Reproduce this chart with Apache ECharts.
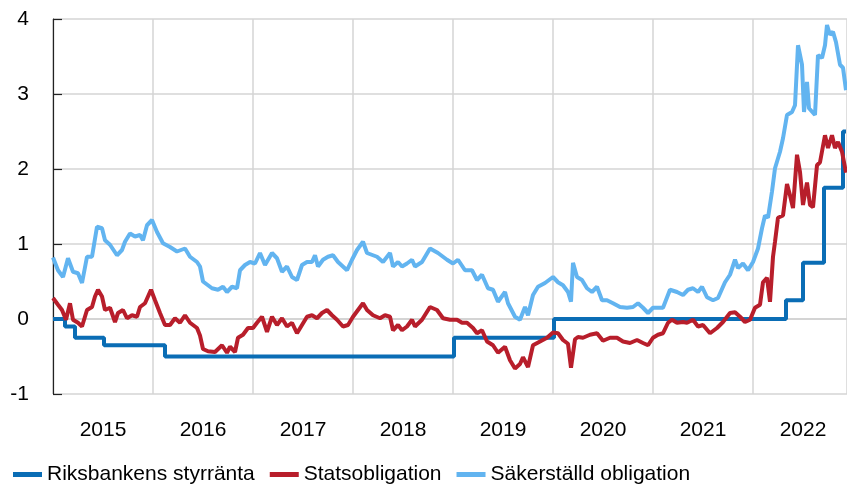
<!DOCTYPE html>
<html lang="sv">
<head>
    <meta charset="UTF-8">
    <title>Räntor</title>
    <script src="https://cdn.jsdelivr.net/npm/echarts@6/dist/echarts.min.js"></script>
    <style type="text/css">
        html, body {
            margin: 0;
            height: 100%;
            background: #fff;
        }
    </style>
</head>
<body>

<div id="main" style="width: 847px;height:485px;"></div>

<script>
    // decimal year, percent
    const styrranta = [
        [2015.00, 0], [2015.12, -0.10], [2015.22, -0.25], [2015.51, -0.35], [2016.12, -0.50],
        [2019.01, -0.25], [2020.01, 0], [2022.33, 0.25], [2022.50, 0.75], [2022.71, 1.75],
        [2022.90, 2.50], [2022.93, 2.50]
    ];

    const statsobligation = [
        [2015.00, 0.28], [2015.05, 0.19], [2015.09, 0.12], [2015.13, -0.01], [2015.17, 0.21], [2015.20, -0.01],
        [2015.25, -0.05], [2015.29, -0.10], [2015.34, 0.12], [2015.39, 0.16], [2015.42, 0.30], [2015.45, 0.39],
        [2015.49, 0.30], [2015.52, 0.12], [2015.57, 0.15], [2015.62, -0.04], [2015.65, 0.08], [2015.70, 0.12],
        [2015.74, 0.01], [2015.79, 0.05], [2015.84, 0.03], [2015.87, 0.16], [2015.92, 0.21], [2015.95, 0.30],
        [2015.98, 0.39], [2016.02, 0.25], [2016.07, 0.08], [2016.12, -0.08], [2016.17, -0.08], [2016.22, 0.01],
        [2016.27, -0.05], [2016.32, 0.05], [2016.37, -0.05], [2016.44, -0.12], [2016.47, -0.22], [2016.50, -0.40],
        [2016.55, -0.43], [2016.62, -0.44], [2016.69, -0.35], [2016.74, -0.45], [2016.77, -0.37], [2016.82, -0.44],
        [2016.85, -0.25], [2016.90, -0.21], [2016.95, -0.12], [2017.00, -0.12], [2017.04, -0.05], [2017.09, 0.03],
        [2017.14, -0.17], [2017.19, 0.03], [2017.24, -0.08], [2017.29, 0.01], [2017.34, -0.10], [2017.39, -0.05],
        [2017.44, -0.19], [2017.49, -0.08], [2017.54, 0.03], [2017.59, 0.05], [2017.64, 0.01], [2017.69, 0.08],
        [2017.74, 0.12], [2017.79, 0.05], [2017.84, -0.01], [2017.90, -0.10], [2017.95, -0.08], [2018.00, 0.03],
        [2018.05, 0.12], [2018.10, 0.21], [2018.14, 0.12], [2018.20, 0.05], [2018.27, 0.01], [2018.32, 0.05],
        [2018.37, 0.03], [2018.40, -0.15], [2018.45, -0.08], [2018.49, -0.15], [2018.54, -0.10], [2018.59, -0.01],
        [2018.62, -0.10], [2018.69, -0.01], [2018.77, 0.16], [2018.84, 0.12], [2018.90, 0.01], [2018.97, -0.01],
        [2019.04, -0.01], [2019.09, -0.05], [2019.14, -0.05], [2019.20, -0.12], [2019.24, -0.19], [2019.29, -0.15],
        [2019.34, -0.30], [2019.40, -0.35], [2019.45, -0.45], [2019.52, -0.37], [2019.57, -0.55], [2019.62, -0.66],
        [2019.67, -0.60], [2019.70, -0.51], [2019.75, -0.64], [2019.80, -0.35], [2019.87, -0.30], [2019.94, -0.25],
        [2020.00, -0.18], [2020.05, -0.19], [2020.10, -0.28], [2020.15, -0.33], [2020.18, -0.65], [2020.22, -0.27],
        [2020.25, -0.24], [2020.30, -0.25], [2020.37, -0.21], [2020.44, -0.19], [2020.50, -0.29], [2020.57, -0.25],
        [2020.64, -0.25], [2020.70, -0.30], [2020.77, -0.32], [2020.84, -0.28], [2020.90, -0.32], [2020.95, -0.35],
        [2021.00, -0.25], [2021.05, -0.21], [2021.10, -0.19], [2021.15, -0.05], [2021.19, -0.01], [2021.24, -0.05],
        [2021.30, -0.04], [2021.34, -0.05], [2021.40, -0.01], [2021.45, -0.10], [2021.50, -0.08], [2021.57, -0.19],
        [2021.64, -0.12], [2021.70, -0.04], [2021.77, 0.08], [2021.82, 0.09], [2021.87, 0.03], [2021.92, -0.04],
        [2021.97, -0.01], [2022.02, 0.15], [2022.07, 0.19], [2022.10, 0.49], [2022.14, 0.55], [2022.17, 0.23],
        [2022.20, 0.83], [2022.22, 1.03], [2022.25, 1.35], [2022.30, 1.38], [2022.34, 1.80], [2022.37, 1.65],
        [2022.40, 1.48], [2022.44, 2.19], [2022.47, 1.96], [2022.50, 1.52], [2022.54, 1.82], [2022.57, 1.52],
        [2022.60, 1.49], [2022.64, 2.05], [2022.67, 2.09], [2022.72, 2.45], [2022.75, 2.28], [2022.79, 2.45],
        [2022.82, 2.28], [2022.85, 2.36], [2022.89, 2.23], [2022.93, 1.95]
    ];

    const sakerstalld = [
        [2015.00, 0.82], [2015.05, 0.65], [2015.10, 0.56], [2015.15, 0.81], [2015.20, 0.63], [2015.25, 0.61],
        [2015.29, 0.48], [2015.34, 0.83], [2015.39, 0.83], [2015.44, 1.23], [2015.49, 1.21], [2015.52, 1.05],
        [2015.57, 0.99], [2015.64, 0.85], [2015.69, 0.92], [2015.72, 1.03], [2015.77, 1.14], [2015.82, 1.10],
        [2015.87, 1.12], [2015.90, 1.05], [2015.94, 1.25], [2015.99, 1.32], [2016.04, 1.16], [2016.10, 1.01],
        [2016.17, 0.96], [2016.24, 0.90], [2016.32, 0.94], [2016.37, 0.83], [2016.44, 0.76], [2016.47, 0.70],
        [2016.50, 0.50], [2016.55, 0.45], [2016.59, 0.41], [2016.65, 0.39], [2016.70, 0.43], [2016.74, 0.36],
        [2016.79, 0.43], [2016.84, 0.41], [2016.87, 0.65], [2016.92, 0.72], [2016.97, 0.76], [2017.02, 0.74],
        [2017.07, 0.88], [2017.12, 0.72], [2017.19, 0.88], [2017.24, 0.81], [2017.29, 0.63], [2017.34, 0.70],
        [2017.39, 0.56], [2017.44, 0.52], [2017.49, 0.72], [2017.54, 0.76], [2017.59, 0.76], [2017.62, 0.85],
        [2017.65, 0.70], [2017.70, 0.79], [2017.75, 0.83], [2017.80, 0.85], [2017.85, 0.76], [2017.94, 0.65],
        [2017.99, 0.79], [2018.04, 0.92], [2018.10, 1.03], [2018.14, 0.88], [2018.20, 0.85], [2018.24, 0.83],
        [2018.30, 0.76], [2018.37, 0.88], [2018.40, 0.70], [2018.45, 0.76], [2018.49, 0.70], [2018.54, 0.74],
        [2018.59, 0.79], [2018.62, 0.70], [2018.69, 0.76], [2018.77, 0.94], [2018.85, 0.88], [2018.94, 0.79],
        [2019.00, 0.74], [2019.05, 0.79], [2019.12, 0.65], [2019.19, 0.65], [2019.24, 0.52], [2019.29, 0.59],
        [2019.35, 0.41], [2019.40, 0.39], [2019.45, 0.23], [2019.52, 0.36], [2019.55, 0.21], [2019.62, 0.03],
        [2019.67, -0.01], [2019.72, 0.16], [2019.75, 0.05], [2019.80, 0.32], [2019.85, 0.43], [2019.92, 0.48],
        [2020.00, 0.56], [2020.05, 0.49], [2020.10, 0.45], [2020.15, 0.36], [2020.18, 0.23], [2020.20, 0.75],
        [2020.24, 0.56], [2020.29, 0.52], [2020.34, 0.41], [2020.39, 0.36], [2020.44, 0.43], [2020.49, 0.25],
        [2020.54, 0.25], [2020.60, 0.21], [2020.67, 0.16], [2020.74, 0.15], [2020.80, 0.16], [2020.85, 0.21],
        [2020.90, 0.15], [2020.95, 0.08], [2021.00, 0.15], [2021.05, 0.15], [2021.10, 0.15], [2021.17, 0.39],
        [2021.24, 0.36], [2021.30, 0.32], [2021.35, 0.39], [2021.40, 0.41], [2021.45, 0.36], [2021.49, 0.43],
        [2021.54, 0.29], [2021.60, 0.25], [2021.65, 0.28], [2021.72, 0.49], [2021.77, 0.59], [2021.82, 0.79],
        [2021.85, 0.68], [2021.90, 0.74], [2021.95, 0.65], [2022.00, 0.76], [2022.05, 0.94], [2022.09, 1.21],
        [2022.12, 1.38], [2022.15, 1.35], [2022.19, 1.70], [2022.22, 2.01], [2022.27, 2.23], [2022.30, 2.41],
        [2022.34, 2.72], [2022.39, 2.76], [2022.42, 2.85], [2022.45, 3.65], [2022.49, 3.39], [2022.51, 2.76],
        [2022.54, 3.16], [2022.56, 2.81], [2022.60, 2.75], [2022.62, 2.72], [2022.65, 3.52], [2022.69, 3.48],
        [2022.72, 3.65], [2022.74, 3.92], [2022.77, 3.79], [2022.80, 3.83], [2022.83, 3.69], [2022.87, 3.39],
        [2022.90, 3.35], [2022.93, 3.05]
    ];

    const yearLabels = [2015, 2016, 2017, 2018, 2019, 2020, 2021, 2022];
    const seriesNames = ['Riksbankens styrränta', 'Statsobligation', 'Säkerställd obligation'];

    const fontName = '"Liberation Sans", Arial, sans-serif';

    const myChart = echarts.init(document.getElementById('main'), null, {renderer: 'canvas'});
    const option = {
        animation: false,
        textStyle: {fontFamily: fontName},
        grid: {
            left: 53,
            right: 0,
            top: 19,
            bottom: 91
        },
        legend: {
            left: 8,
            top: 459,
            icon: 'rect',
            itemWidth: 29,
            itemHeight: 5,
            itemGap: 15,
            textStyle: {fontSize: 21, color: '#000', fontFamily: fontName},
            data: seriesNames
        },
        xAxis: {
            type: 'value',
            min: 2015,
            max: 2022.94,
            interval: 1,
            axisLine: {show: true, lineStyle: {color: '#d4d4d4', width: 2}},
            axisTick: {show: false},
            axisLabel: {
                customValues: yearLabels.map(function (y) { return y + 0.5; }),
                formatter: function (v) { return String(Math.floor(v)); },
                fontSize: 21,
                color: '#000',
                margin: 26
            },
            splitLine: {show: true, lineStyle: {color: '#d4d4d4', width: 1.5}}
        },
        yAxis: {
            type: 'value',
            min: -1,
            max: 4,
            interval: 1,
            axisLine: {show: true, onZero: false, lineStyle: {color: '#222', width: 1.2}},
            axisTick: {show: true, inside: true, length: 9, lineStyle: {color: '#222', width: 1.2}},
            axisLabel: {fontSize: 21, color: '#000', margin: 24},
            splitLine: {show: true, lineStyle: {color: '#d4d4d4', width: 1.5}}
        },
        series: [
            {
                name: seriesNames[0],
                type: 'line',
                step: 'end',
                symbol: 'none',
                color: '#0a6db5',
                lineStyle: {width: 4},
                data: styrranta
            },
            {
                name: seriesNames[1],
                type: 'line',
                symbol: 'none',
                color: '#b81e2b',
                lineStyle: {width: 4},
                data: statsobligation
            },
            {
                name: seriesNames[2],
                type: 'line',
                symbol: 'none',
                color: '#62b4f0',
                lineStyle: {width: 4},
                data: sakerstalld
            }
        ]
    };

    myChart.setOption(option);
</script>
</body>
</html>
